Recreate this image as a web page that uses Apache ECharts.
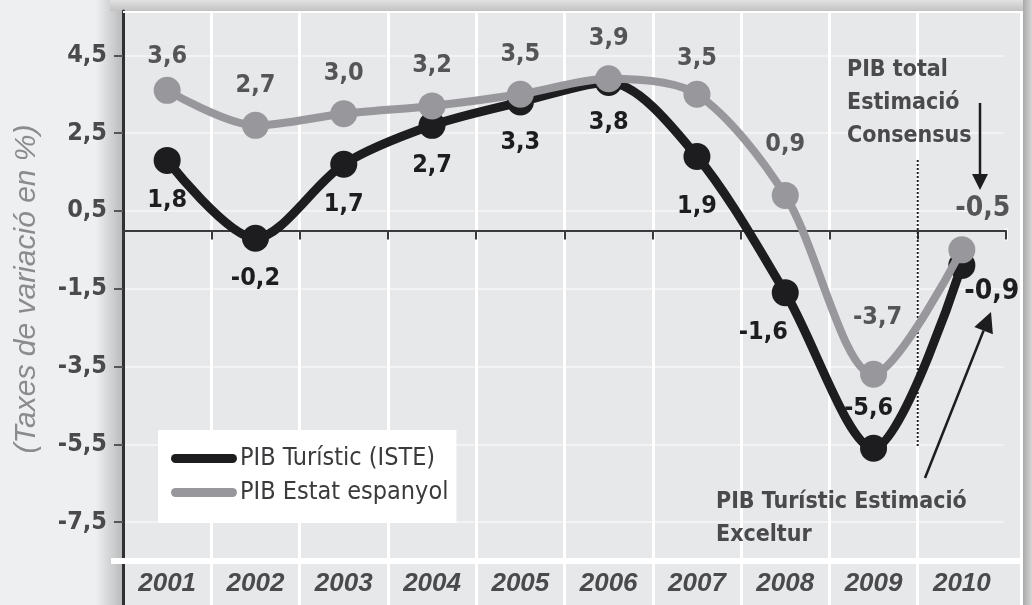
<!DOCTYPE html>
<html>
<head>
<meta charset="utf-8">
<script src="https://cdn.jsdelivr.net/npm/echarts@6/dist/echarts.min.js"></script>
<style>
html, body { margin: 0; padding: 0; background: #eeeff0; }
#chart { width: 1032px; height: 605px; }
</style>
</head>
<body>
<div id="chart"></div>
<script>
const years = ['2001', '2002', '2003', '2004', '2005', '2006', '2007', '2008', '2009', '2010']
const pibTuristic = [1.8, -0.2, 1.7, 2.7, 3.3, 3.8, 1.9, -1.6, -5.6, -0.9]
const pibEstat = [3.6, 2.7, 3.0, 3.2, 3.5, 3.9, 3.5, 0.9, -3.7, -0.5]
const yTicks = [-7.5, -5.5, -3.5, -1.5, 0.5, 2.5, 4.5]

const NARROW = '"Liberation Sans Narrow", "DejaVu Sans Condensed", sans-serif'
const fmt = v => v.toFixed(1).replace('.', ',')

// per-point label nudges (style only)
const blackTweaks = {
    6: {distance: 24},
    7: {offset: [-22, 0]},
    8: {position: 'top', offset: [-5, 0]},
    9: {offset: [30, -15], fontSize: 28}
}
const greyTweaks = {
    0: {distance: 8},
    6: {distance: 10},
    7: {distance: 25},
    8: {distance: 31, offset: [4, 0]},
    9: {offset: [21, 0], fontSize: 28}
}

function withLabels(values, tweaks) {
    return values.map((v, i) => tweaks[i] ? {value: v, label: tweaks[i]} : v)
}

const chart = echarts.init(document.getElementById('chart'))

chart.setOption({
    animation: false,
    grid: {left: 123, right: 26, top: 11, bottom: 0},
    legend: {
        orient: 'vertical',
        left: 158,
        top: 430,
        backgroundColor: '#ffffff',
        padding: [16, 8, 18, 13],
        itemWidth: 66,
        itemHeight: 9,
        itemGap: 9,
        icon: 'path://M4.5,0 H61.5 A4.5,4.5 0 0 1 61.5,9 H4.5 A4.5,4.5 0 0 1 4.5,0 Z',
        textStyle: {fontFamily: NARROW, fontSize: 25, color: '#3b3b3e', padding: [0, 0, 0, -2]},
        data: ['PIB Turístic (ISTE)', 'PIB Estat espanyol']
    },
    xAxis: [{
        type: 'category',
        data: years,
        axisLine: {onZero: true, lineStyle: {color: '#3a3a3c', width: 2}},
        axisTick: {show: true, length: 9, lineStyle: {color: '#3a3a3c', width: 2}},
        axisLabel: {show: false},
        splitLine: {show: true, lineStyle: {color: '#ffffff', width: 3}}
    }, {
        type: 'category',
        data: years,
        position: 'bottom',
        axisLine: {show: false, onZero: false},
        axisTick: {show: false},
        axisLabel: {
            inside: true,
            margin: 8,
            fontFamily: 'Liberation Sans, Arial, sans-serif',
            fontStyle: 'italic',
            fontWeight: 'bold',
            fontSize: 26,
            color: '#4a4a4d'
        },
        splitLine: {show: false}
    }],
    yAxis: {
        type: 'value',
        min: -9.63,
        max: 5.64,
        axisLine: {show: true, lineStyle: {color: '#303032', width: 3}},
        axisTick: {show: true, customValues: yTicks, length: 9, lineStyle: {color: '#555558', width: 2}},
        axisLabel: {
            customValues: yTicks,
            margin: 16,
            formatter: v => fmt(v),
            fontFamily: NARROW,
            fontWeight: 'bold',
            fontSize: 25,
            color: '#4a4a4d'
        },
        splitLine: {show: true, lineStyle: {color: '#f3f3f4', width: 2}}
    },
    series: [{
        name: 'PIB Turístic (ISTE)',
        type: 'line',
        data: withLabels(pibTuristic, blackTweaks),
        smooth: 0.3,
        symbol: 'circle',
        symbolSize: 27,
        z: 3,
        itemStyle: {color: '#1d1d1f'},
        lineStyle: {color: '#1d1d1f', width: 9},
        label: {
            show: true,
            position: 'bottom',
            distance: 14,
            formatter: p => fmt(p.value),
            fontFamily: NARROW,
            fontWeight: 'bold',
            fontSize: 25,
            color: '#1d1d1f'
        },
        emphasis: {disabled: true}
    }, {
        name: 'PIB Estat espanyol',
        type: 'line',
        data: withLabels(pibEstat, greyTweaks),
        smooth: 0.3,
        symbol: 'circle',
        symbolSize: 27,
        z: 4,
        itemStyle: {color: '#98979c'},
        lineStyle: {color: '#98979c', width: 8},
        label: {
            show: true,
            position: 'top',
            distance: 14,
            formatter: p => fmt(p.value),
            fontFamily: NARROW,
            fontWeight: 'bold',
            fontSize: 25,
            color: '#555558'
        },
        emphasis: {disabled: true}
    }]
})

// decoration: panel, shadows, annotations
const splitX = (chart.convertToPixel({xAxisIndex: 0}, '2009') + chart.convertToPixel({xAxisIndex: 0}, '2010')) / 2
const bandW = chart.convertToPixel({xAxisIndex: 0}, '2010') - chart.convertToPixel({xAxisIndex: 0}, '2009')
const lastEdge = chart.convertToPixel({xAxisIndex: 0}, '2010') + bandW / 2
const zeroY = chart.convertToPixel({yAxisIndex: 0}, 0)
const bottomY = chart.convertToPixel({yAxisIndex: 0}, -8.5)

function arrow(x1, y1, x2, y2, head) {
    const dx = x2 - x1, dy = y2 - y1
    const len = Math.sqrt(dx * dx + dy * dy)
    const ux = dx / len, uy = dy / len
    const bx = x2 - ux * head, by = y2 - uy * head
    const w = head * 0.5
    return [{
        type: 'line',
        shape: {x1: x1, y1: y1, x2: bx, y2: by},
        style: {stroke: '#1d1d1f', lineWidth: 2.5}
    }, {
        type: 'polygon',
        shape: {points: [[x2, y2], [bx - uy * w, by + ux * w], [bx + uy * w, by - ux * w]]},
        style: {fill: '#1d1d1f'}
    }]
}

const annotStyle = {
    fill: '#4a4a4d',
    font: 'bold 23px ' + NARROW,
    lineHeight: 33
}

chart.setOption({
    graphic: [
        {
            type: 'rect', z: -10, silent: true,
            shape: {x: 123, y: 11, width: 900, height: 594},
            style: {fill: '#e7e8ea'}
        },
        {
            type: 'rect', z: -10, silent: true,
            shape: {x: 96, y: 0, width: 27, height: 605},
            style: {fill: new echarts.graphic.LinearGradient(0, 0, 1, 0, [
                {offset: 0, color: 'rgba(0,0,0,0)'},
                {offset: 1, color: 'rgba(0,0,0,0.22)'}
            ])}
        },
        {
            type: 'rect', z: -10, silent: true,
            shape: {x: 110, y: 0, width: 922, height: 11},
            style: {fill: new echarts.graphic.LinearGradient(0, 0, 0, 1, [
                {offset: 0, color: '#e2e2e3'},
                {offset: 1, color: '#c2c2c3'}
            ])}
        },
        {
            type: 'rect', z: -10, silent: true,
            shape: {x: 1023, y: 0, width: 9, height: 605},
            style: {fill: new echarts.graphic.LinearGradient(0, 0, 1, 0, [
                {offset: 0, color: '#a9a9aa'},
                {offset: 1, color: '#d6d6d7'}
            ])}
        },
        // hide the split line on the last band edge (kept on the zero axis tick)
        {
            type: 'rect', z: 1, silent: true,
            shape: {x: lastEdge - 2.5, y: 13, width: 5, height: zeroY - 15},
            style: {fill: '#e7e8ea'}
        },
        {
            type: 'rect', z: 1, silent: true,
            shape: {x: lastEdge - 2.5, y: zeroY + 10, width: 5, height: 605 - zeroY - 10},
            style: {fill: '#e7e8ea'}
        },
        {
            type: 'line', z: 1, silent: true,
            shape: {x1: 123, y1: 12, x2: 1022, y2: 12},
            style: {stroke: '#ffffff', lineWidth: 2}
        },
        {
            type: 'line', z: 1, silent: true,
            shape: {x1: 1021.5, y1: 11, x2: 1021.5, y2: 605},
            style: {stroke: '#ffffff', lineWidth: 3}
        },
        {
            type: 'line', z: 1, silent: true,
            shape: {x1: 111, y1: bottomY, x2: 1021, y2: bottomY},
            style: {stroke: '#ffffff', lineWidth: 6}
        },
        {
            type: 'line', z: 2, silent: true,
            shape: {x1: splitX, y1: 160, x2: splitX, y2: 448},
            style: {stroke: '#1d1d1f', lineWidth: 2, lineDash: [2, 2]}
        },
        {
            type: 'text', z: 5, silent: true,
            x: 847, y: 54,
            style: Object.assign({text: 'PIB total\nEstimació\nConsensus'}, annotStyle)
        },
        {
            type: 'text', z: 5, silent: true,
            x: 716, y: 486,
            style: Object.assign({text: 'PIB Turístic Estimació\nExceltur'}, annotStyle)
        },
        {
            type: 'text', z: 5, silent: true,
            x: 27, y: 289, rotation: Math.PI / 2,
            style: {
                text: '(Taxes de variació en %)',
                fill: '#8b8b8e',
                font: 'italic 30px "Liberation Sans", Arial, sans-serif',
                align: 'center',
                verticalAlign: 'middle'
            }
        },
        ...arrow(980, 103, 980, 190, 16),
        ...arrow(925, 478, 991, 312, 20)
    ]
})
</script>
</body>
</html>
